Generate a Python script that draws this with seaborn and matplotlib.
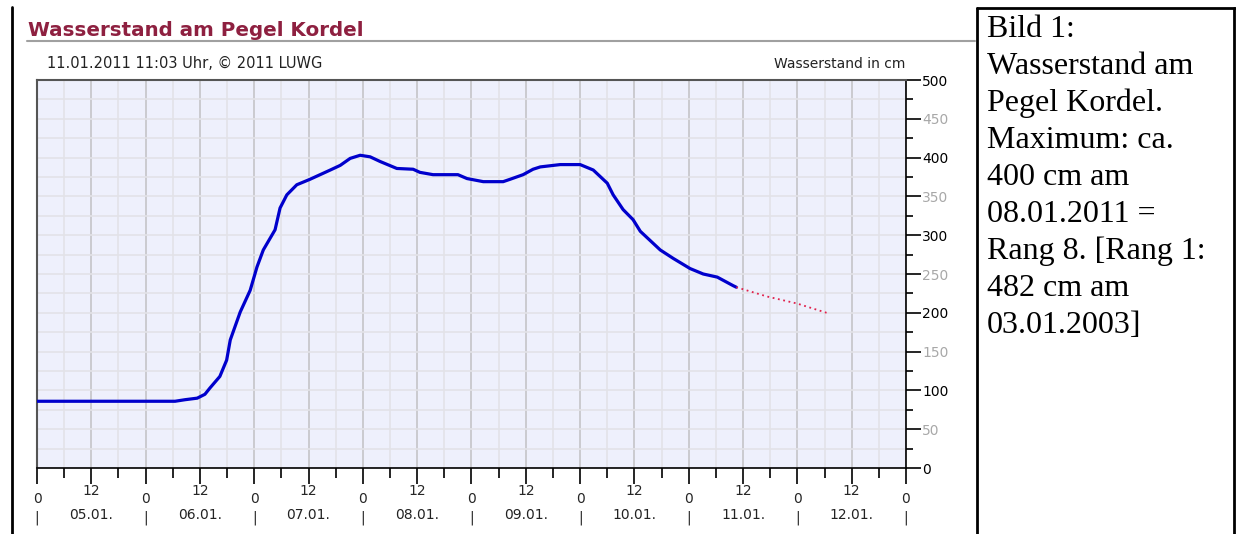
import numpy as np
import pandas as pd
import matplotlib
matplotlib.use("Agg")
import matplotlib.pyplot as plt
import seaborn as sns
from matplotlib.lines import Line2D
from matplotlib.ticker import MultipleLocator

# Messwerte: Stunden ab 05.01.2011 0 Uhr, Wasserstand in cm
obs_hours = [0, 30.5, 32.7, 35.4, 37.1, 38.2, 40.4, 41.9, 42.7, 44.9, 47.1, 48.6, 50.0,
             52.6, 53.7, 55.2, 57.4, 60.3, 64.8, 67.0, 69.2, 71.4, 73.6, 75.8, 79.5,
             83.1, 84.6, 87.5, 93.0, 95.0, 98.6, 103.0, 104.5, 107.4, 109.6, 111.2,
             115.6, 120.0, 122.9, 126.0, 127.3, 129.5, 131.7, 133.3, 137.7, 140.6,
             144.3, 147.2, 150.3, 153.8, 154.5]
obs_level = [86, 86, 88, 90, 95, 103, 118, 139, 165, 201, 229, 259, 281,
             307, 335, 352, 365, 372, 384, 390, 399, 403, 401, 395, 386,
             385, 381, 378, 378, 373, 369, 369, 372, 378, 385, 388,
             391, 391, 384, 367, 352, 333, 320, 305, 281, 270,
             257, 250, 246, 235, 233]

# Vorhersage
fc_hours = [154.5, 161.3, 167.9, 175.0]
fc_level = [233, 221, 212, 199]

day_labels = ["05.01.", "06.01.", "07.01.", "08.01.", "09.01.", "10.01.", "11.01.", "12.01."]
y_ticks = [0, 50, 100, 150, 200, 250, 300, 350, 400, 450, 500]

obs = pd.DataFrame({"h": obs_hours, "cm": obs_level})
fc = pd.DataFrame({"h": fc_hours, "cm": fc_level})

sns.set_theme(style="white")
plt.rcParams["font.family"] = ["DejaVu Sans"]

W, H = 1236, 534
fig = plt.figure(figsize=(W / 100, H / 100), dpi=100)
fig.patch.set_facecolor("white")
ax = fig.add_axes([37 / W, 1 - 468 / H, (906 - 37) / W, (468 - 80) / H])
ax.set_facecolor("#EEF0FC")

sns.lineplot(data=obs, x="h", y="cm", ax=ax, color="#0000CC", linewidth=2.3, zorder=3)
sns.lineplot(data=fc, x="h", y="cm", ax=ax, color="#E0204A", linewidth=1.3,
             linestyle=(0, (1, 2)), zorder=3)

ax.set_xlim(0, 192)
ax.set_ylim(0, 500)
ax.set_xlabel("")
ax.set_ylabel("")

# y-Achse rechts
ax.yaxis.tick_right()
ax.set_yticks(y_ticks)
ax.set_yticklabels([str(v) for v in y_ticks])
ax.yaxis.set_minor_locator(MultipleLocator(25))
ax.tick_params(axis="y", which="major", length=10.5, width=1.2, color="black",
               labelsize=10, pad=1, right=True, left=False)
ax.tick_params(axis="y", which="minor", length=5, width=1.2, color="black",
               right=True, left=False)
for v, lab in zip(y_ticks, ax.get_yticklabels()):
    lab.set_color("black" if v % 100 == 0 else "#A8A8A8")

# x-Achse: alle 12 Stunden, Zwischenstriche alle 6 Stunden
x_major = list(range(0, 193, 12))
ax.set_xticks(x_major)
ax.set_xticklabels(["0" if h % 24 == 0 else "12" for h in x_major])
ax.xaxis.set_minor_locator(MultipleLocator(6))
ax.tick_params(axis="x", which="major", bottom=True, length=11.5, width=1.2,
               color="black", labelsize=10, pad=0)
ax.tick_params(axis="x", which="minor", bottom=True, length=7.5, width=1.2, color="black")

# Gitter
ax.grid(True, which="major", axis="x", color="#C4C4C8", linewidth=1.2)
ax.grid(True, which="minor", axis="x", color="#E2E2E8", linewidth=1.2)
ax.grid(True, which="both", axis="y", color="#E2E2E8", linewidth=1.2)
ax.set_axisbelow(True)

for side in ["left", "top"]:
    ax.spines[side].set_color("#555555")
    ax.spines[side].set_linewidth(1.5)
ax.spines["right"].set_color("black")
ax.spines["bottom"].set_color("black")
ax.spines["right"].set_linewidth(1.2)
ax.spines["bottom"].set_linewidth(1.2)

# Tagesbeschriftung unter der Achse
for i, lab in enumerate(day_labels):
    ax.annotate(lab, xy=(24 * i + 12, 0), xycoords=("data", "axes fraction"),
                xytext=(0, -34), textcoords="offset points",
                ha="center", va="center", fontsize=10, color="#222222")
for i in range(len(day_labels) + 1):
    ax.annotate("|", xy=(24 * i, 0), xycoords=("data", "axes fraction"),
                xytext=(0, -36), textcoords="offset points",
                ha="center", va="center", fontsize=10, color="#222222")

# Kopfzeilen
fig.text(28 / W, 1 - 36 / H, "Wasserstand am Pegel Kordel", fontsize=14.3,
         fontweight="bold", color="#8E2040", ha="left", va="baseline")
fig.add_artist(Line2D([27 / W, 975 / W], [1 - 41 / H, 1 - 41 / H],
                      color="#A0A0A0", linewidth=1.5))
fig.text(47 / W, 1 - 68 / H, "11.01.2011 11:03 Uhr, \u00a9 2011 LUWG", fontsize=10.5,
         color="#222222", ha="left", va="baseline")
fig.text(905 / W, 1 - 68 / H, "Wasserstand in cm", fontsize=10,
         color="#222222", ha="right", va="baseline")

# Rahmen links und Textkasten rechts
fig.add_artist(Line2D([12 / W, 12 / W], [1 - 7 / H, 0], color="black", linewidth=2))
fig.add_artist(Line2D([977 / W, 977 / W], [1 - 8 / H, 0], color="black", linewidth=2))
fig.add_artist(Line2D([977 / W, 1], [1 - 8 / H, 1 - 8 / H], color="black", linewidth=2))
fig.add_artist(Line2D([1234 / W, 1234 / W], [1 - 8 / H, 0], color="black", linewidth=2))

caption = ["Bild 1:", "Wasserstand am", "Pegel Kordel.", "Maximum: ca.", "400 cm am",
           "08.01.2011 =", "Rang 8. [Rang 1:", "482 cm am", "03.01.2003]"]
for i, line in enumerate(caption):
    fig.text(987 / W, 1 - (37 + 37 * i) / H, line, fontsize=23,
             family="Liberation Serif", color="black", ha="left", va="baseline")

# Tagesstriche laenger, "0" etwas tiefer als "12"
fig.canvas.draw()
for h, t in zip(x_major, ax.xaxis.get_major_ticks()):
    if h % 24 == 0:
        t.tick1line.set_markersize(14.5)
        t.set_pad(5.5)

fig.savefig("out.png", dpi=100)
